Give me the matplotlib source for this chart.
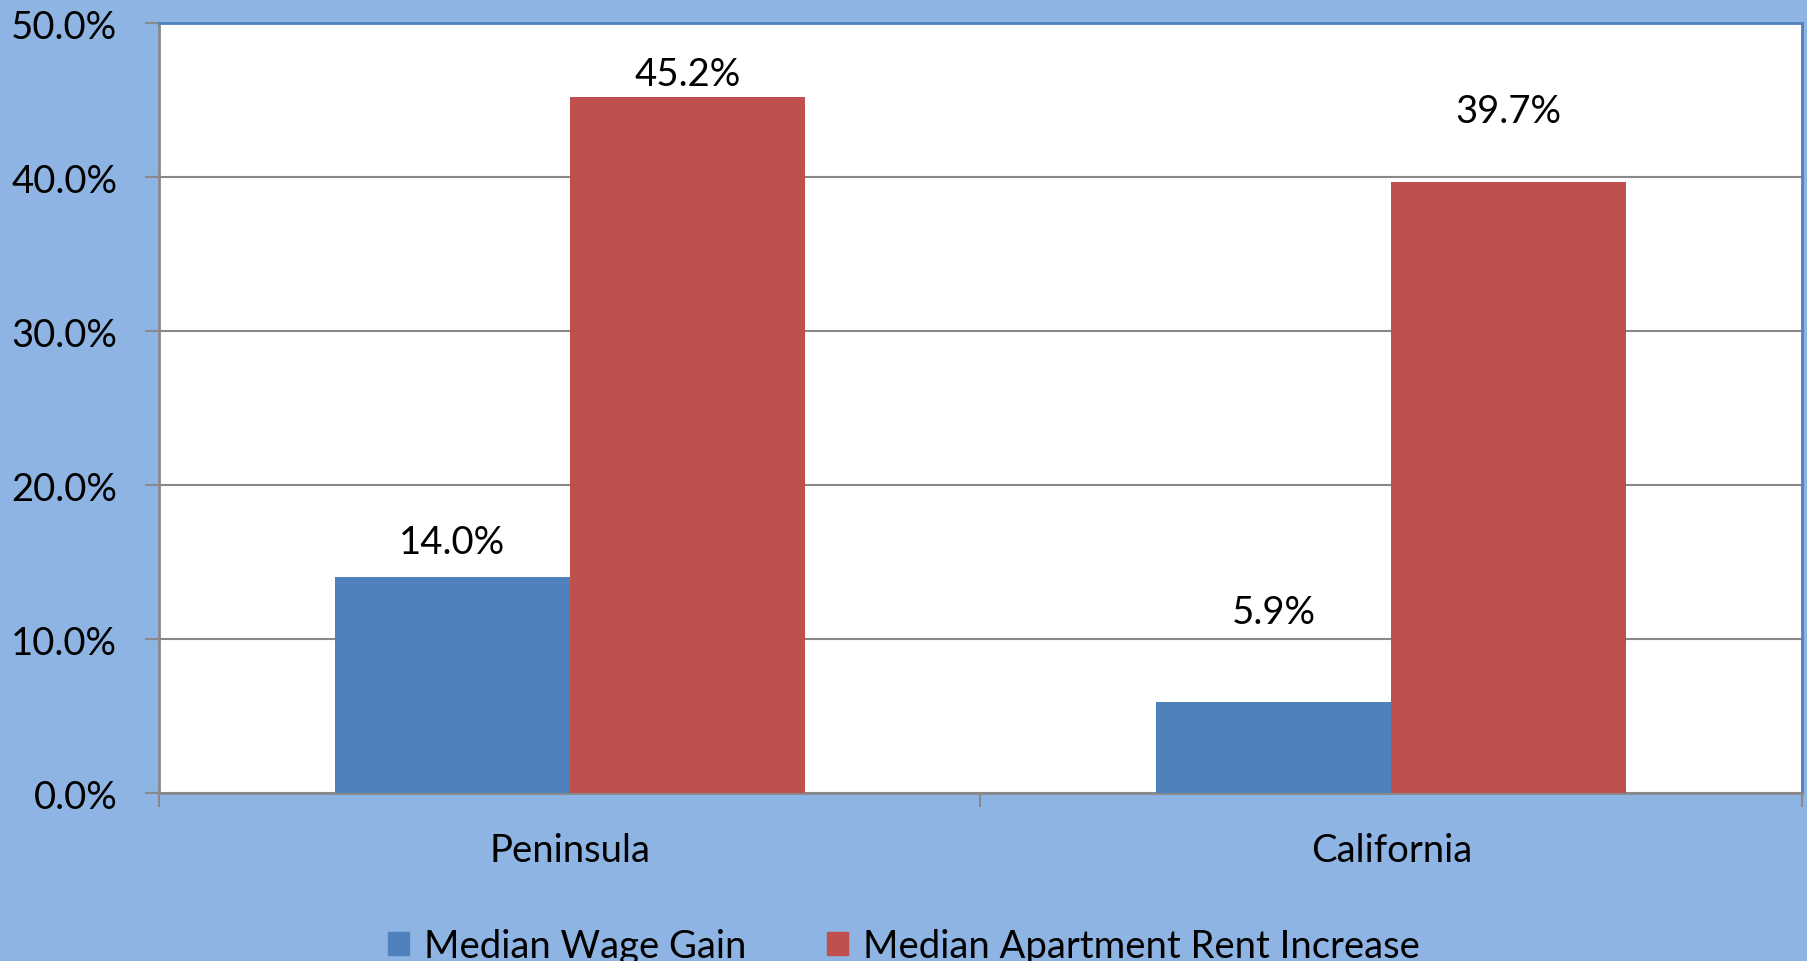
import matplotlib
matplotlib.use("Agg")
import matplotlib.pyplot as plt
from matplotlib.patches import Patch
import numpy as np

categories = ["Peninsula", "California"]
series_names = ["Median Wage Gain", "Median Apartment Rent Increase"]
wage_gain = [14.0, 5.9]
rent_increase = [45.2, 39.7]
y_ticks = [0, 10, 20, 30, 40, 50]

plt.rcParams['font.family'] = ['Lato', 'DejaVu Sans']

BG = "#8EB4E3"
BLUE = "#4F81BD"
RED = "#C0504D"
GRID = "#898989"
FS = 27.5

fig = plt.figure(figsize=(18.08, 9.62), dpi=100, facecolor=BG)
ax = fig.add_axes([0.0879, 0.1746, 0.9088, 0.8004])
ax.set_facecolor("white")

x = np.arange(len(categories))
w = 0.286
b1 = ax.bar(x - w / 2, wage_gain, w, color=BLUE, zorder=3)
b2 = ax.bar(x + w / 2, rent_increase, w, color=RED, zorder=3)

# data labels (offsets as placed in the original)
label_offsets = [[2.3, 5.85], [1.5, 4.6]]
for bars, vals, offs in [(b1, wage_gain, label_offsets[0]), (b2, rent_increase, label_offsets[1])]:
    for rect, v, o in zip(bars, vals, offs):
        ax.text(rect.get_x() + rect.get_width() / 2, v + o, f"{v:.1f}%",
                ha="center", va="center", fontsize=FS, color="black", zorder=4)

ax.set_xlim(-0.5, 1.5)
ax.set_ylim(0, 50)
ax.set_yticks(y_ticks)
ax.set_yticklabels([f"{t:.1f}%" for t in y_ticks])
ax.yaxis.grid(True, color=GRID, linewidth=1.5, zorder=1)
ax.set_axisbelow(True)

ax.set_xticks(x)
ax.set_xticklabels(categories)
ax.set_xticks([-0.5, 0.5, 1.5], minor=True)
ax.tick_params(axis="x", which="major", length=0, pad=28, labelsize=FS)
ax.tick_params(axis="x", which="minor", length=10, width=1.5, color=GRID, direction="out")
ax.tick_params(axis="y", length=10, width=1.5, color=GRID, pad=20, labelsize=FS)

for s in ["left", "bottom"]:
    ax.spines[s].set_color(GRID)
    ax.spines[s].set_linewidth(2)
for s in ["top", "right"]:
    ax.spines[s].set_color(BLUE)
    ax.spines[s].set_linewidth(2)

handles = [Patch(color=BLUE), Patch(color=RED)]
fig.legend(handles, series_names, loc="center", bbox_to_anchor=(0.5, 0.016),
           ncol=2, frameon=False, fontsize=FS, handlelength=0.55, handleheight=0.55,
           handletextpad=0.4, columnspacing=2.1)

fig.savefig("out.png", dpi=100, facecolor=BG)
